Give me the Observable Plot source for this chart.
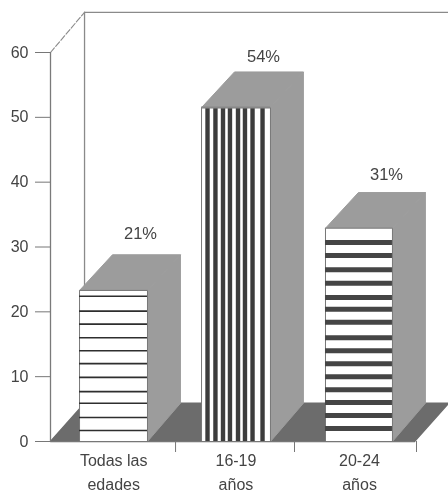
<!DOCTYPE html>
<html><head><meta charset="utf-8">
<script src="https://cdn.jsdelivr.net/npm/d3@7"></script>
<script src="https://cdn.jsdelivr.net/npm/@observablehq/plot@0.6"></script>
<style>html,body{margin:0;padding:0;background:#fff}svg{display:block;filter:blur(0.45px)}</style>
</head><body><div id="chart"></div>
<script>
const categories = ["Todas las|edades", "16-19|años", "20-24|años"];
const barHeights = [23.3, 51.5, 32.9];
const barLefts = [0.238, 1.238, 2.254];
const barRights = [0.795, 1.803, 2.803];
const labelTexts = ["21%", "54%", "31%"];
const labelX = [0.738, 1.746, 2.754];
const labelY = [32.1, 59.4, 41.2];
const categoryX = [0.518, 1.52, 2.533];
const yTicks = [0, 10, 20, 30, 40, 50, 60];
const xTicks = [1.025, 2, 3];
const thinLines = [22.4, 20.1, 18.1, 16.0, 14.0, 12.0, 9.9, 7.7, 5.9, 3.7, 1.7];
const thickBands = [30.7, 28.7, 26.5, 24.4, 22.2, 20.4, 18.4, 16.0, 14.0, 12.0, 10.0, 8.0, 6.0, 4.0, 2.0];
const verticalStripes = [1.287, 1.352, 1.414, 1.471, 1.537, 1.594, 1.656, 1.738];
const depthX = 0.27, depthY = 5.5;
const wallX = 0.279, wallTop = 66.2, floorBack = 5.9, xMax = 398 / 122;

const poly = (pts, id) => pts.map(([x, y]) => ({x, y, id}));
const sides = [], tops = [], fronts = [];
barHeights.forEach((h, i) => {
  const l = barLefts[i], r = barRights[i];
  sides.push(...poly([[r,0],[r+depthX,floorBack],[r+depthX,h+depthY],[r,h],[r,0]], "s"+i));
  tops.push(...poly([[l,h],[l+depthX,h+depthY],[r+depthX,h+depthY],[r,h],[l,h]], "t"+i));
  fronts.push(...poly([[l,0],[l,h],[r,h],[r,0],[l,0]], "f"+i));
});
const floor = poly([[0,0],[wallX,floorBack],[xMax,floorBack],[xMax-wallX,0],[0,0]], "floor");
const tickLabelLines = categories.flatMap((c, i) => c.split("|").map((t, k) => ({t, x: categoryX[i], k})));
const ink = "#444";
const fs = 16;

const plot = Plot.plot({
  width: 448, height: 494,
  marginLeft: 50, marginRight: 0, marginTop: 52, marginBottom: 53,
  x: {domain: [0, xMax], axis: null},
  y: {domain: [0, 60], axis: null},
  style: {fontFamily: "'Liberation Sans', Arial, sans-serif", background: "#fff"},
  marks: [
    Plot.line(floor, {x: "x", y: "y", z: "id", fill: "#6c6c6c", stroke: "#6c6c6c"}),
    Plot.ruleX([wallX], {y1: floorBack, y2: wallTop, stroke: "#8a8a8a", strokeWidth: 1.3}),
    Plot.ruleY([wallTop], {x1: wallX, x2: xMax, stroke: "#8a8a8a", strokeWidth: 1.3}),
    Plot.line([{x:0,y:60},{x:wallX,y:wallTop}], {x:"x", y:"y", stroke:"#8a8a8a", strokeWidth:1.1, strokeDasharray:"6 2"}),
    Plot.ruleX([0], {y1: 0, y2: 60, stroke: "#7a7a7a", strokeWidth: 1.3}),
    Plot.line(sides, {x: "x", y: "y", z: "id", fill: "#9c9c9c", stroke: "#9c9c9c", strokeWidth: 1}),
    Plot.line(tops, {x: "x", y: "y", z: "id", fill: "#9c9c9c", stroke: "#9c9c9c", strokeWidth: 1}),
    Plot.line(fronts, {x: "x", y: "y", z: "id", fill: "#fff", stroke: "#777", strokeWidth: 1}),
    Plot.ruleY(thinLines, {x1: barLefts[0], x2: barRights[0], stroke: "#2e2e2e", strokeWidth: 1.7}),
    Plot.ruleX(verticalStripes, {y1: 0, y2: barHeights[1], stroke: "#3c3c3c", strokeWidth: 4.4}),
    Plot.ruleY(thickBands, {x1: barLefts[2], x2: barRights[2], stroke: "#454545", strokeWidth: 5}),
    Plot.ruleY([barHeights[1]], {x1: barLefts[1], x2: barRights[1], stroke: "#888", strokeWidth: 2}),
    Plot.axisY({ticks: yTicks, tickSize: 15, tickPadding: 7, label: null, stroke: "#777", fill: ink, fontSize: fs}),
    Plot.axisX({ticks: xTicks, tickSize: 11, tickFormat: () => "", label: null, stroke: "#777"}),
    Plot.ruleY([0], {x1: 0, x2: xMax - wallX, stroke: "#777", strokeWidth: 1}),
    Plot.text(tickLabelLines.filter(d => d.k === 0), {x: "x", y: 0, dy: 19, text: "t", fill: ink, fontSize: fs}),
    Plot.text(tickLabelLines.filter(d => d.k === 1), {x: "x", y: 0, dy: 43, text: "t", fill: ink, fontSize: fs}),
    Plot.text(labelTexts.map((t, i) => ({t, x: labelX[i], y: labelY[i]})), {x: "x", y: "y", text: "t", fill: ink, fontSize: 16.5})
  ]
});
document.getElementById("chart").append(plot);
</script></body></html>
